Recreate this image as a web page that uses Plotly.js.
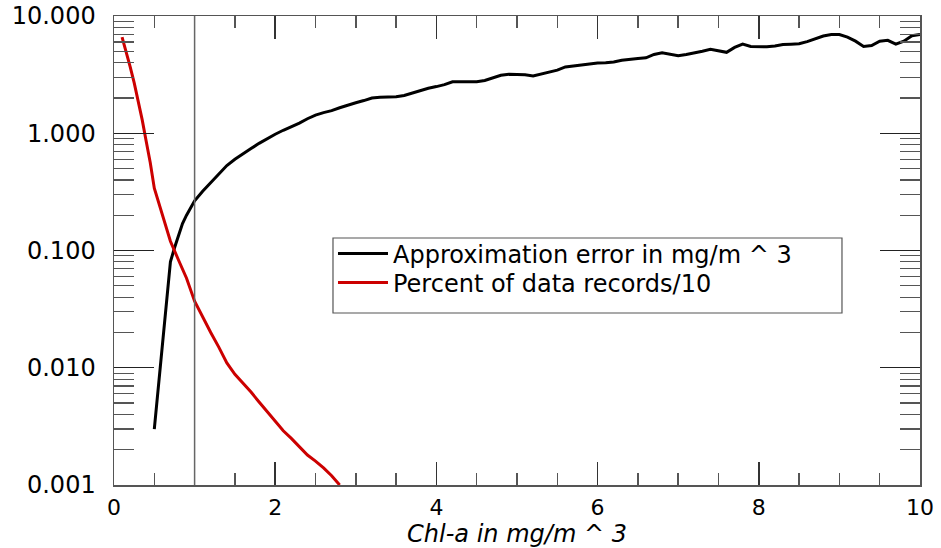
<!DOCTYPE html>
<html>
<head>
<meta charset="utf-8">
<script src="https://cdn.plot.ly/plotly-3.0.1.min.js"></script>
<style>html,body{margin:0;padding:0;background:#fff;}#chart{width:941px;height:548px;}</style>
</head>
<body>
<div id="chart"></div>
<script>
// Approximation error (mg/m^3) versus Chl-a
const errX = [0.5,0.55,0.6,0.65,0.7,0.75,0.8,0.85,0.9,1.0,1.1,1.2,1.3,1.4,1.5,1.6,1.7,1.8,1.9,2.0,
  2.1,2.2,2.3,2.4,2.5,2.6,2.7,2.8,2.9,3.0,3.1,3.2,3.3,3.4,3.5,3.6,3.7,3.8,3.9,4.0,
  4.1,4.2,4.3,4.4,4.5,4.6,4.7,4.8,4.9,5.0,5.1,5.2,5.3,5.4,5.5,5.6,5.7,5.8,5.9,6.0,
  6.1,6.2,6.3,6.4,6.5,6.6,6.7,6.8,6.9,7.0,7.1,7.2,7.3,7.4,7.5,7.6,7.7,7.8,7.9,8.0,
  8.1,8.2,8.3,8.4,8.5,8.6,8.7,8.8,8.9,9.0,9.1,9.2,9.3,9.4,9.5,9.6,9.7,9.8,9.9,10.0];
const errY = [0.003,0.007,0.016,0.035,0.08,0.105,0.135,0.17,0.2,0.265,0.32,0.38,0.45,0.53,0.6,0.67,0.74,0.82,0.9,0.98,
  1.06,1.13,1.22,1.33,1.43,1.5,1.56,1.65,1.74,1.82,1.9,2.0,2.03,2.03,2.05,2.1,2.2,2.33,2.42,2.5,
  2.6,2.75,2.75,2.72,2.75,2.82,2.95,3.12,3.18,3.18,3.16,3.08,3.2,3.3,3.45,3.68,3.75,3.85,3.95,3.97,
  4.0,4.05,4.2,4.3,4.35,4.4,4.7,4.86,4.7,4.58,4.7,4.82,5.0,5.2,5.05,4.9,5.4,5.75,5.5,5.47,
  5.47,5.55,5.72,5.75,5.8,6.05,6.4,6.75,6.95,6.95,6.6,6.1,5.5,5.6,6.1,6.2,5.75,6.1,6.8,6.95];

// Percent of data records / 10
const pctX = [0.1,0.15,0.2,0.25,0.3,0.35,0.4,0.45,0.5,0.6,0.7,0.8,0.9,1.0,1.1,1.2,1.3,1.4,1.5,1.6,1.7,1.8,1.9,2.0,2.1,2.2,2.3,2.4,2.5,2.6,2.7,2.8];
const pctY = [6.6,5.0,3.7,2.7,1.9,1.3,0.85,0.56,0.34,0.2,0.12,0.083,0.058,0.037,0.027,0.02,0.015,0.011,0.0088,0.0074,0.0062,0.0051,0.0042,0.0035,0.0029,0.0025,0.0021,0.0018,0.0016,0.0014,0.0012,0.001];

const seriesNames = ['Approximation error in mg/m ^ 3', 'Percent of data records/10'];
const yTickVals = [0.001,0.01,0.1,1,10];
const yTickText = ['0.001','0.010','0.100','1.000','10.000'];
const markerX = 1;

const traces = [
  {x: errX, y: errY, type: 'scatter', mode: 'lines', name: seriesNames[0], legend: 'legend',
   line: {color: '#000000', width: 3}},
  {x: pctX, y: pctY, type: 'scatter', mode: 'lines', name: seriesNames[1], legend: 'legend2',
   line: {color: '#cc0000', width: 3}}
];

const font = 'DejaVu Sans, sans-serif';
const legendStyle = {xanchor: 'left', yanchor: 'middle', bgcolor: 'rgba(0,0,0,0)', borderwidth: 0,
  font: {family: font, size: 24, color: '#000'}, itemwidth: 50};
const layout = {
  width: 941, height: 548,
  margin: {l: 114, r: 21, t: 16, b: 63},
  paper_bgcolor: '#ffffff', plot_bgcolor: '#ffffff',
  showlegend: true,
  legend: Object.assign({x: 0.2717, y: 0.4925}, legendStyle),
  legend2: Object.assign({x: 0.2717, y: 0.4307}, legendStyle),
  xaxis: {
    range: [0, 10], showgrid: false, zeroline: false,
    showline: true, linecolor: '#555555', linewidth: 1.5, mirror: 'allticks',
    ticks: 'inside', ticklen: 23, tickwidth: 1.5, tickcolor: '#333333', dtick: 2, tick0: 0,
    minor: {ticks: 'inside', ticklen: 12, tickwidth: 1.5, tickcolor: '#555555', dtick: 0.5, showgrid: false},
    tickfont: {family: font, size: 22, color: '#000'},
    ticklabelstandoff: 2,
    title: {text: 'Chl-a in mg/m ^ 3', font: {family: font, size: 24, color: '#000', style: 'italic'}, standoff: 8}
  },
  yaxis: {
    type: 'log', range: [-3, 1], showgrid: false, zeroline: false,
    showline: true, linecolor: '#555555', linewidth: 1.5, mirror: 'allticks',
    ticks: 'inside', ticklen: 40, tickwidth: 1.2, tickcolor: '#222222',
    tickvals: yTickVals, ticktext: yTickText,
    minor: {ticks: 'inside', ticklen: 20, tickwidth: 1.2, tickcolor: '#555555', dtick: 'D1', showgrid: false},
    tickfont: {family: font, size: 24, color: '#000'},
    ticklabelstandoff: 12
  },
  shapes: [
    {type: 'line', xref: 'x', yref: 'paper', x0: markerX, x1: markerX, y0: 0, y1: 1,
     line: {color: '#666666', width: 1.5}},
    {type: 'rect', xref: 'paper', yref: 'paper', x0: 0.2717, x1: 0.9032, y0: 0.3667, y1: 0.5267,
     fillcolor: '#ffffff', line: {color: '#555555', width: 1.2}, layer: 'above'}
  ]
};

Plotly.newPlot('chart', traces, layout, {displayModeBar: false, staticPlot: true});
</script>
</body>
</html>
